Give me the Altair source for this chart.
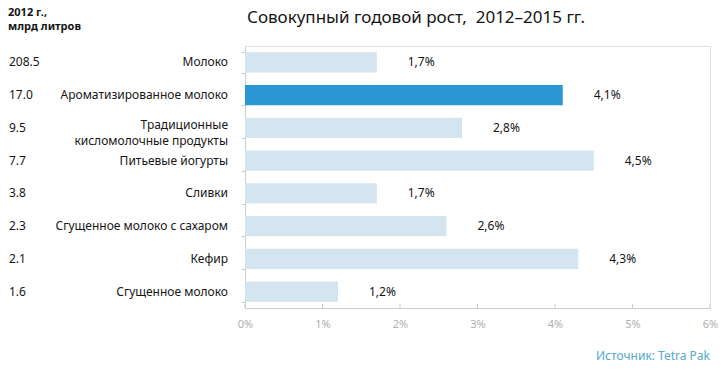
import altair as alt
import pandas as pd

categories = [
    "Молоко",
    "Ароматизированное молоко",
    "Традиционные\nкисломолочные продукты",
    "Питьевые йогурты",
    "Сливки",
    "Сгущенное молоко с сахаром",
    "Кефир",
    "Сгущенное молоко",
]
volumes_2012 = ["208.5", "17.0", "9.5", "7.7", "3.8", "2.3", "2.1", "1.6"]
growth = [1.7, 4.1, 2.8, 4.5, 1.7, 2.6, 4.3, 1.2]
highlight = [False, True, False, False, False, False, False, False]
x_ticks = [0, 1, 2, 3, 4, 5, 6]

title_text = "Совокупный годовой рост,\u00a0 2012–2015 гг."
header_lines = ["2012 г.,", "млрд литров"]
source_text = "Источник: Tetra Pak"

df = pd.DataFrame({
    "cat": categories,
    "vol": volumes_2012,
    "g": growth,
    "hl": highlight,
    "lbl": [f"{v:.1f}".replace(".", ",") + "%" for v in growth],
})

FONT = "Noto Sans"
W, H = 465, 262
TXT = "#151515"

xscale = alt.Scale(domain=[0, 6], nice=False)
yscale = alt.Scale(domain=categories, paddingInner=0.38, paddingOuter=0.19)

base = alt.Chart(df)

bars = base.mark_bar().encode(
    x=alt.X("g:Q", scale=xscale,
            axis=alt.Axis(values=x_ticks, labelExpr="datum.value + '%'", title=None,
                          grid=False, ticks=False, domainColor="#cccccc",
                          labelColor="#b0b0b0", labelFontSize=11, labelFont=FONT,
                          labelPadding=10, labelFlush=False)),
    y=alt.Y("cat:N", scale=yscale, sort=categories,
            axis=alt.Axis(labels=False, title=None, tickBand="extent", tickSize=4,
                          tickColor="#cccccc", domainColor="#cccccc")),
    color=alt.Color("hl:N", scale=alt.Scale(domain=[False, True], range=["#d5e5f0", "#2a96d4"]),
                    legend=None),
)

value_labels = base.mark_text(align="left", baseline="middle", dx=31, fontSize=12,
                              font=FONT, color=TXT).encode(
    x=alt.X("g:Q", scale=xscale),
    y=alt.Y("cat:N", scale=yscale, sort=categories),
    text="lbl:N",
)

cat_single = base.transform_filter("indexof(datum.cat, '\\n') < 0").mark_text(
    align="right", baseline="middle", fontSize=12, font=FONT, color=TXT).encode(
    x=alt.value(-17),
    y=alt.Y("cat:N", scale=yscale, sort=categories),
    text="cat:N",
)

cat_multi = base.transform_filter("indexof(datum.cat, '\\n') >= 0").mark_text(
    align="right", baseline="middle", fontSize=12, font=FONT, color=TXT,
    lineBreak="\n", lineHeight=16, dy=-3).encode(
    x=alt.value(-17),
    y=alt.Y("cat:N", scale=yscale, sort=categories),
    text="cat:N",
)

vol_labels = base.mark_text(align="left", baseline="middle", fontSize=12, font=FONT,
                            color=TXT).encode(
    x=alt.value(-236),
    y=alt.Y("cat:N", scale=yscale, sort=categories),
    text="vol:N",
)

tick_df = pd.DataFrame({"t": x_ticks})
tick_rules = alt.Chart(tick_df).mark_rule(color="#cccccc").encode(
    x=alt.X("t:Q", scale=xscale),
    y=alt.value(H - 4),
    y2=alt.value(H),
)

title = alt.Chart(pd.DataFrame({"t": [title_text]})).mark_text(
    align="left", baseline="middle", fontSize=17, font=FONT, color=TXT
).encode(x=alt.value(2), y=alt.value(-28), text="t:N")

header1 = alt.Chart(pd.DataFrame({"t": [header_lines[0]]})).mark_text(
    align="left", baseline="middle", fontSize=11, font=FONT, fontWeight="bold", color=TXT
).encode(x=alt.value(-237), y=alt.value(-33), text="t:N")

header2 = alt.Chart(pd.DataFrame({"t": [header_lines[1]]})).mark_text(
    align="left", baseline="middle", fontSize=11, font=FONT, fontWeight="bold", color=TXT
).encode(x=alt.value(-237), y=alt.value(-19), text="t:N")

source = alt.Chart(pd.DataFrame({"t": [source_text]})).mark_text(
    align="right", baseline="middle", fontSize=12, font=FONT, color="#55a8cb"
).encode(x=alt.value(W), y=alt.value(310), text="t:N")

chart = alt.layer(bars, value_labels, cat_single, cat_multi, vol_labels, tick_rules,
                  title, header1, header2, source).properties(
    width=W, height=H,
    autosize=alt.AutoSizeParams(type="none"),
    padding={"left": 237, "top": 38, "right": 10, "bottom": 55},
).configure_view(stroke=None).configure(background="white")

chart.save("out.html", embed_options={"renderer": "svg", "actions": False})
